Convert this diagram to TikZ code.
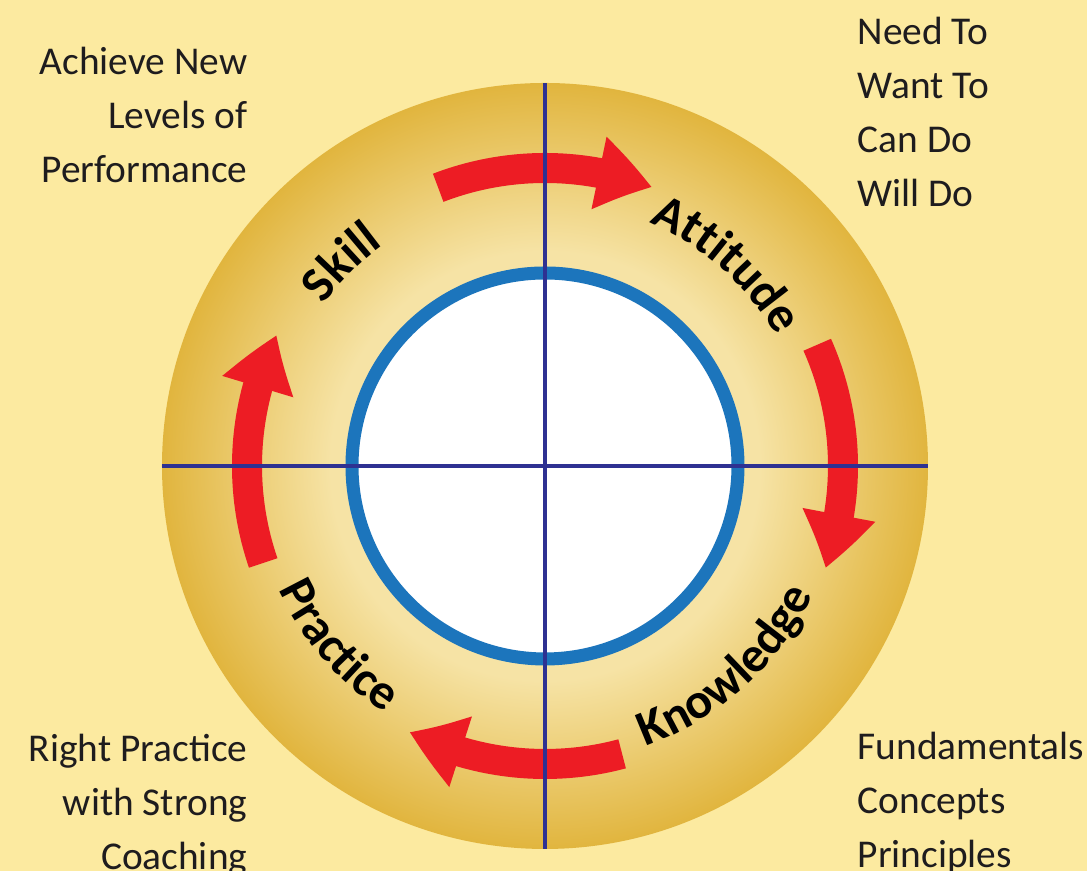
\documentclass[tikz,border=0pt]{standalone}
\usepackage{fontspec}
\setmainfont{Carlito}
\usepackage{tikz}
\usetikzlibrary{arrows.meta,bending,decorations.text}

\definecolor{bgyellow}{RGB}{252,234,160}
\definecolor{golddark}{RGB}{225,181,62}
\definecolor{goldlight}{RGB}{246,227,165}
\definecolor{ringblue}{RGB}{28,117,188}
\definecolor{crossblue}{RGB}{46,49,146}
\definecolor{arrowred}{RGB}{237,28,36}
\definecolor{textgrey}{RGB}{30,28,30}

\pgfdeclareradialshading{goldring}{\pgfpointorigin}{color(0bp)=(goldlight); color(14bp)=(goldlight); color(25bp)=(golddark); color(50bp)=(golddark)}

\newcommand{\labelfont}{\fontsize{14.2}{17}\selectfont}

\tikzset{
  sidetext/.style={font=\fontsize{11.2}{15.4}\selectfont, text=textgrey, inner sep=0pt},
  redarc/.style={draw=arrowred, line width=0.3cm, -{Triangle[width=0.7cm, length=0.55cm, bend]}},
  ringlabel/.style={decorate, decoration={text along path, text align=center, text={|\bfseries\labelfont|#1}}}
}

\begin{document}
\begin{tikzpicture}[x=0.01cm, y=0.01cm]
\def \outer {383}
\def \inner {193}
\def \band {298}

\fill[bgyellow, use as bounding box] (-545,-405) rectangle (542,466);
\shade[shading=goldring] (0,0) circle (\outer);
\draw[ringblue, line width=0.13cm, fill=white] (0,0) circle (\inner);

\foreach \a/\b in {111/69, 24/-20, -75/-117, 199/154}
  \draw[redarc] (\a:\band) arc[start angle=\a, end angle=\b, radius=\band];

\draw[crossblue, line width=0.035cm] (-\outer,0) -- (\outer,0) (0,-\outer) -- (0,\outer);

\path[ringlabel=Skill] (175:274) arc[start angle=175, end angle=95, radius=274];
\path[ringlabel=Attitude] (93:265) arc[start angle=93, end angle=3, radius=265];
\path[ringlabel=Knowledge] (-98:298) arc[start angle=-98, end angle=2, radius=298];
\path[ringlabel=Practice] (171:294) arc[start angle=171, end angle=271, radius=294];

\node[sidetext, align=right, anchor=base east] (perf) at (-297,283) {Achieve New\\Levels of\\Performance};
\node[sidetext, align=left, anchor=base west] (need) at (312,259) {Need To\\Want To\\Can Do\\Will Do};
\node[sidetext, align=right, anchor=base east] (coach) at (-297,-404) {Right Practice\\with Strong\\Coaching};
\node[sidetext, align=left, anchor=base west] (fund) at (312,-402) {Fundamentals\\Concepts\\Principles};

\end{tikzpicture}
\end{document}
